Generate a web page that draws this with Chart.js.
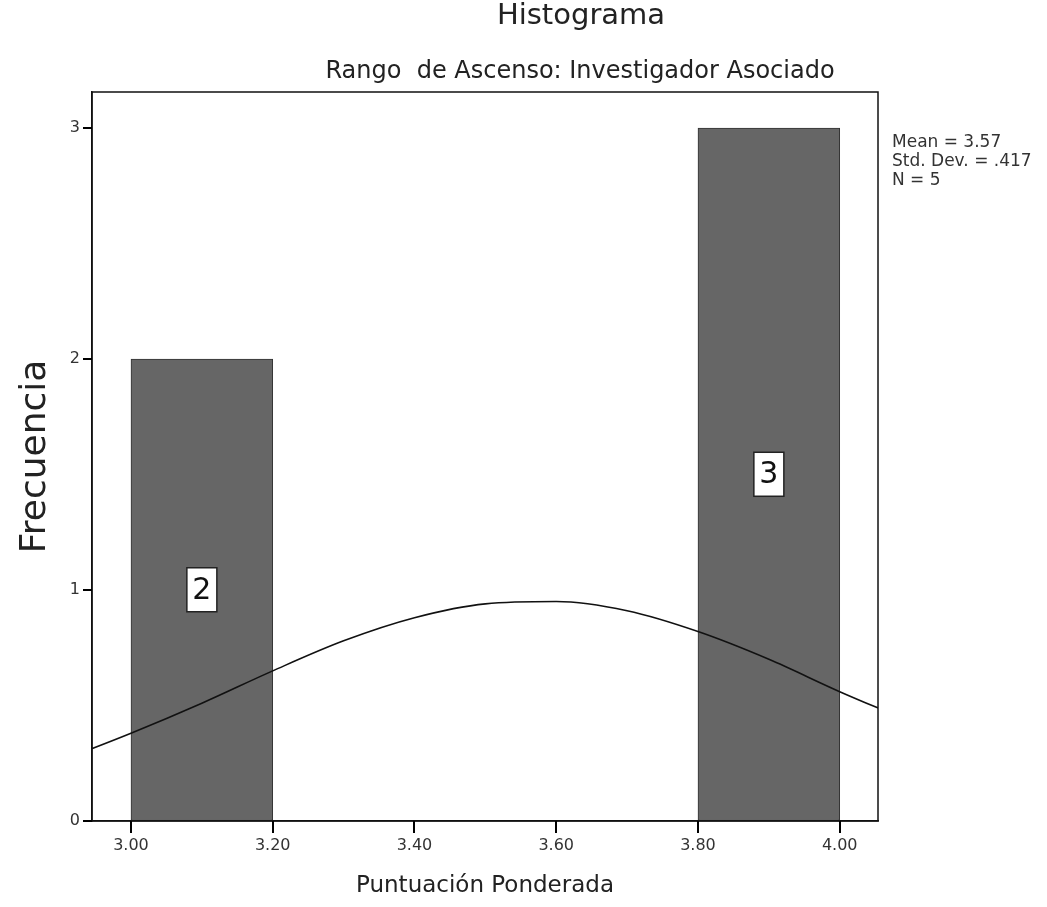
<!DOCTYPE html>
<html>
<head>
<meta charset="utf-8">
<script src="https://cdn.jsdelivr.net/npm/chart.js@4"></script>
<style>
  html, body { margin: 0; padding: 0; background: #ffffff; }
  #c { display: block; }
</style>
</head>
<body>
<canvas id="c" width="1047" height="907"></canvas>
<script>
// ---- data ----
const binStarts = [3.00, 3.80];
const binEnds   = [3.20, 4.00];
const counts    = [2, 3];
const curveX = [2.90, 3.00, 3.10, 3.20, 3.30, 3.40, 3.50, 3.60, 3.70, 3.80, 3.90, 4.00, 4.10];
const curveY = [0.26, 0.38, 0.51, 0.65, 0.78, 0.88, 0.94, 0.95, 0.91, 0.82, 0.70, 0.56, 0.43];
const xTickValues = [3.0, 3.2, 3.4, 3.6, 3.8, 4.0];
const yTickValues = [0, 1, 2, 3];
const statsLines = ['Mean = 3.57', 'Std. Dev. = .417', 'N = 5'];
const titleText = 'Histograma';
const subtitleText = 'Rango  de Ascenso: Investigador Asociado';
const xTitle = 'Puntuación Ponderada';
const yTitle = 'Frecuencia';

const FONT = '"DejaVu Sans", "Liberation Sans", Arial, sans-serif';

const barData = binStarts.map((s, i) => ({ x: (s + binEnds[i]) / 2, y: counts[i] }));
const curveData = curveX.map((x, i) => ({ x: x, y: curveY[i] }));

const decor = {
  id: 'decor',
  afterDatasetsDraw(chart) {
    const ctx = chart.ctx;
    const meta = chart.getDatasetMeta(0);
    ctx.save();
    meta.data.forEach((el, i) => {
      const cx = el.x;
      const cy = (el.y + el.base) / 2;
      const w = 30, h = 44;
      ctx.fillStyle = '#ffffff';
      ctx.fillRect(cx - w / 2, cy - h / 2, w, h);
      ctx.strokeStyle = '#222';
      ctx.lineWidth = 1.5;
      ctx.strokeRect(cx - w / 2, cy - h / 2, w, h);
      ctx.fillStyle = '#111';
      ctx.font = '30px ' + FONT;
      ctx.textAlign = 'center';
      ctx.textBaseline = 'middle';
      ctx.fillText(String(counts[i]), cx, cy + 1);
    });
    ctx.restore();
  },
  afterDraw(chart) {
    const ctx = chart.ctx;
    const a = chart.chartArea;
    const xs = chart.scales.x, ys = chart.scales.y;
    ctx.save();
    // plot frame
    ctx.strokeStyle = '#111';
    ctx.lineWidth = 1.5;
    ctx.strokeRect(a.left, a.top, a.right - a.left, a.bottom - a.top);
    // tick marks
    ctx.fillStyle = '#000000';
    xTickValues.forEach(v => {
      const px = xs.getPixelForValue(v);
      ctx.fillRect(Math.round(px) - 1, a.bottom, 2, 12);
    });
    yTickValues.forEach(v => {
      const py = ys.getPixelForValue(v);
      ctx.fillRect(a.left - 9, Math.round(py) - 1, 9, 2);
    });
    // titles
    ctx.fillStyle = '#222';
    ctx.textAlign = 'center';
    ctx.textBaseline = 'middle';
    ctx.font = '29px ' + FONT;
    ctx.fillText(titleText, 581, 16);
    ctx.font = '24px ' + FONT;
    ctx.fillText(subtitleText, 580, 72);
    // statistics text
    ctx.textAlign = 'left';
    ctx.font = '17px ' + FONT;
    ctx.fillStyle = '#333';
    statsLines.forEach((t, i) => ctx.fillText(t, a.right + 14, 143 + i * 19));
    ctx.restore();
  }
};

new Chart(document.getElementById('c'), {
  type: 'bar',
  data: {
    datasets: [
      {
        type: 'bar',
        data: barData,
        backgroundColor: '#666666',
        borderColor: '#333333',
        borderWidth: 1,
        borderSkipped: false,
        barPercentage: 1,
        categoryPercentage: 1,
        order: 2
      },
      {
        type: 'line',
        data: curveData,
        borderColor: '#111111',
        borderWidth: 1.6,
        pointRadius: 0,
        fill: false,
        tension: 0.4,
        cubicInterpolationMode: 'monotone',
        order: 1
      }
    ]
  },
  options: {
    responsive: false,
    animation: false,
    devicePixelRatio: 1,
    layout: { padding: { top: 92, right: 169, left: 0, bottom: 0 } },
    plugins: { legend: { display: false }, tooltip: { enabled: false }, title: { display: false } },
    scales: {
      x: {
        type: 'linear',
        offset: false,
        min: 2.945,
        max: 4.054,
        afterFit(s) { s.height = 86; },
        ticks: {
          stepSize: 0.2,
          includeBounds: false,
          autoSkip: false,
          maxRotation: 0,
          padding: 15,
          color: '#333',
          font: { family: FONT, size: 16 },
          callback: (v) => Number(v).toFixed(2)
        },
        grid: { offset: false, drawOnChartArea: false, drawTicks: false },
        border: { display: true, color: '#111', width: 1.5 },
        title: {
          display: true,
          text: xTitle,
          color: '#222',
          font: { family: FONT, size: 23 },
          padding: { top: 0, bottom: 7 }
        }
      },
      y: {
        min: 0,
        max: 3.156,
        afterFit(s) { s.width = 92; },
        ticks: {
          stepSize: 1,
          includeBounds: false,
          padding: 12,
          color: '#333',
          font: { family: FONT, size: 16 }
        },
        grid: { drawOnChartArea: false, drawTicks: false },
        border: { display: true, color: '#111', width: 1.5 },
        title: {
          display: true,
          text: yTitle,
          color: '#222',
          font: { family: FONT, size: 36 },
          padding: { top: 14, bottom: 0 }
        }
      }
    }
  },
  plugins: [decor]
});
</script>
</body>
</html>
